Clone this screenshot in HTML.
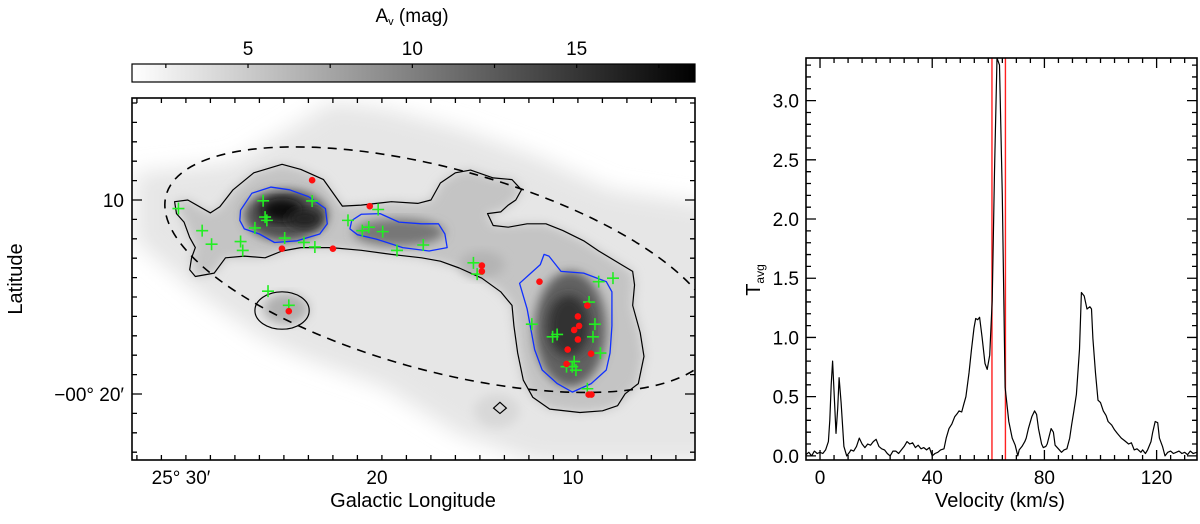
<!DOCTYPE html>
<html><head><meta charset="utf-8"><style>
html,body{margin:0;padding:0;background:#fff;}
svg{display:block;font-family:"Liberation Sans",sans-serif;}
</style></head><body>
<svg id="fig" width="1200" height="524" viewBox="0 0 1200 524" xmlns="http://www.w3.org/2000/svg">
<defs>
<linearGradient id="cbg" x1="0" x2="1" y1="0" y2="0"><stop offset="0" stop-color="#fff"/><stop offset="1" stop-color="#000"/></linearGradient>
<filter id="blur" x="-20%" y="-20%" width="140%" height="140%"><feGaussianBlur stdDeviation="14"/></filter>
<filter id="blur2" x="-20%" y="-20%" width="140%" height="140%"><feGaussianBlur stdDeviation="30"/></filter>
<clipPath id="mapclip"><rect x="132" y="98" width="563" height="362"/></clipPath>
<clipPath id="specclip"><rect x="806" y="58" width="391" height="402"/></clipPath>
</defs>

<text x="412" y="22" font-size="19" text-anchor="middle">A<tspan font-size="11" dy="3">v</tspan><tspan dy="-3"> (mag)</tspan></text>
<rect x="132" y="64" width="563" height="18" fill="url(#cbg)" stroke="#000" stroke-width="1.2"/>
<g id="cbticks"></g>

<g clip-path="url(#mapclip)">
  <rect x="132" y="98" width="563" height="362" fill="#fff"/>
  <g transform="translate(119.94,87.8) scale(0.377,0.34)">
    <path filter="url(#blur2)" fill="#e6e6e6" d="M40,250 L300,220 L480,100 L560,40 L700,60 L900,120 L1100,200 L1300,300 L1600,350 L1600,1100 L1100,1100 L900,1020 L700,880 L500,800 L380,740 L200,600 L40,450 Z"/>
    <path filter="url(#blur)" fill="#c4c4c4" d="M145,335 L180,330 L240,368 L265,350 L300,300 L355,250 L430,225 L480,240 L540,270 L590,348 L640,345 L720,335 L790,340 L825,330 L850,280 L890,250 L930,242 L990,265 L1040,270 L1065,300 L1050,330 L1010,365 L975,370 L990,405 L1080,400 L1130,400 L1175,420 L1230,450 L1330,520 L1360,540 L1365,580 L1360,640 L1380,720 L1390,790 L1375,870 L1320,935 L1280,950 L1220,955 L1140,945 L1095,910 L1070,860 L1055,780 L1040,640 L1010,600 L960,560 L900,530 L800,500 L720,490 L560,470 L480,470 L385,500 L280,500 L250,545 L200,555 L190,500 L200,470 L170,395 Z"/>
    <ellipse filter="url(#blur)" cx="440" cy="650" rx="60" ry="45" fill="#b0b0b0"/>
    <ellipse filter="url(#blur)" cx="440" cy="375" rx="110" ry="75" fill="#505050"/>
    <ellipse filter="url(#blur)" cx="430" cy="360" rx="55" ry="35" fill="#101010"/>
    <ellipse filter="url(#blur)" cx="490" cy="385" rx="45" ry="28" fill="#202020"/>
    <ellipse filter="url(#blur)" cx="740" cy="425" rx="120" ry="40" fill="#777"/>
    <ellipse filter="url(#blur)" cx="1195" cy="710" rx="95" ry="170" fill="#606060"/>
    <ellipse filter="url(#blur)" cx="1190" cy="700" rx="55" ry="90" fill="#303030"/>
    <ellipse filter="url(#blur)" cx="960" cy="520" rx="60" ry="40" fill="#b4b4b4"/>
    <ellipse filter="url(#blur)" cx="1000" cy="950" rx="60" ry="50" fill="#d8d8d8"/>
    <path d="M145,335 L180,330 L240,368 L265,350 L300,300 L355,250 L430,225 L480,240 L540,270 L590,348 L640,345 L720,335 L790,340 L825,330 L850,280 L890,250 L930,242 L990,265 L1040,270 L1065,300 L1050,330 L1030,345 L1010,365 L975,370 L990,405 L1030,410 L1080,400 L1130,400 L1175,420 L1230,450 L1270,480 L1330,520 L1360,540 L1365,580 L1360,640 L1370,680 L1380,720 L1390,790 L1375,870 L1340,900 L1320,935 L1280,950 L1220,955 L1140,945 L1095,910 L1070,860 L1055,780 L1045,700 L1040,640 L1010,600 L960,560 L900,530 L850,510 L800,500 L720,490 L640,478 L560,470 L480,470 L430,480 L385,500 L330,495 L280,500 L250,545 L200,555 L185,535 L190,500 L200,470 L185,440 L170,395 L150,370 Z" fill="none" stroke="#000" stroke-width="1.2" vector-effect="non-scaling-stroke" stroke-linejoin="round"/>
    <ellipse cx="430" cy="655" rx="72" ry="55" fill="none" stroke="#000" stroke-width="1.2" vector-effect="non-scaling-stroke"/>
    <path d="M320,360 L350,310 L400,292 L450,300 L500,320 L545,355 L550,400 L530,430 L470,450 L410,455 L370,430 L330,415 L318,390 Z" fill="none" stroke="#1030ff" stroke-width="1.3" vector-effect="non-scaling-stroke" stroke-linejoin="round"/>
    <path d="M615,390 L640,372 L690,370 L740,395 L800,400 L845,400 L862,430 L868,470 L820,480 L750,470 L680,445 L630,432 L610,415 Z" fill="none" stroke="#1030ff" stroke-width="1.3" vector-effect="non-scaling-stroke" stroke-linejoin="round"/>
    <path d="M1060,575 L1090,545 L1115,520 L1125,490 L1138,495 L1170,540 L1230,545 L1290,570 L1305,600 L1305,700 L1300,780 L1290,830 L1250,870 L1200,895 L1160,870 L1120,830 L1100,770 L1080,650 Z" fill="none" stroke="#1030ff" stroke-width="1.3" vector-effect="non-scaling-stroke" stroke-linejoin="round"/>
    <ellipse cx="850" cy="535" rx="760" ry="295" transform="rotate(17.3 850 535)" fill="none" stroke="#000" stroke-width="1.6" stroke-dasharray="9 7" vector-effect="non-scaling-stroke"/>
    <path d="M1008,925 L1025,942 L1008,958 L991,942 Z" fill="none" stroke="#000" stroke-width="1.2" vector-effect="non-scaling-stroke"/>
  </g>
  <g id="markers"></g>
</g>
<rect x="132" y="98" width="563" height="362" fill="none" stroke="#000" stroke-width="1.6"/>
<g id="mapticks"></g>
<text x="22" y="279" font-size="20" text-anchor="middle" transform="rotate(-90 22 279)">Latitude</text>
<text x="413" y="507" font-size="20" text-anchor="middle">Galactic Longitude</text>

<g clip-path="url(#specclip)">
  <g id="redlines"></g>
  <path id="spec" fill="none" stroke="#000" stroke-width="1.2" stroke-linejoin="round"/>
</g>
<rect x="806" y="58" width="391" height="402" fill="none" stroke="#000" stroke-width="1.6"/>
<g id="specticks"></g>
<text x="760" y="280" font-size="20" text-anchor="middle" transform="rotate(-90 760 280)">T<tspan font-size="12" dy="4">avg</tspan></text>
<text x="1000" y="507" font-size="20" text-anchor="middle">Velocity (km/s)</text>
</svg>
<script>
const NS="http://www.w3.org/2000/svg";
const ysoLon=[30.13,28.92,28.44,26.96,26.85,25.81,25.71,25.62,26.23,24.71,23.73,23.17,23.31,21.48,20.75,20.42,19.71,19.94,18.98,17.64,15.08,14.89,25.56,24.50,12.10,11.04,10.81,9.94,10.04,9.85,10.33,9.18,8.88,8.98,8.60,8.69,7.96,9.27];
const ysoLat=[-10.44,-11.58,-12.28,-12.14,-12.60,-10.04,-10.88,-11.05,-11.44,-11.96,-12.19,-12.42,-10.05,-11.05,-11.58,-11.40,-11.63,-10.49,-12.60,-12.32,-13.24,-13.82,-14.70,-15.43,-16.40,-17.05,-16.93,-18.33,-18.59,-18.77,-18.59,-15.26,-16.40,-17.05,-17.89,-14.21,-14.03,-19.73];
const redLon=[23.31,24.85,22.25,20.37,14.65,14.65,24.50,11.71,9.27,9.75,9.94,9.69,9.75,10.27,9.08,10.33,9.20,9.06];
const redLat=[-8.98,-12.51,-12.51,-10.32,-13.38,-13.68,-15.73,-14.21,-15.44,-16.00,-16.70,-16.49,-17.19,-17.71,-17.92,-18.45,-20.03,-20.03];
const lonTicks=[30,20,10];
const lonTickLabels=["25° 30′","20","10"];
const latTicks=[-10,-20];
const latTickLabels=["10","−00° 20′"];
const cbTicks=[5,10,15];
const vel=[-5,-4,-3,-2,-1,0,1,2,3,3.5,4,4.5,5,5.7,6.3,6.8,7.5,8.5,9.5,10.5,11,12,13,14,15,16,17,18,19,20,21,22,23,24,25,26,27,28,29,30,31,32,33,34,35,36,37,38,39,40,41,42,43,44.2,45,46,47,48,49,49.6,50.5,51.3,52,53.1,54,54.9,55.5,56.2,56.9,57.8,58.8,59.6,60.5,61.4,62.2,63.1,64,65,66,67.3,68.5,69.6,70.5,71,72,73,73.5,74.3,75.5,76.5,77.2,77.9,79,79.6,80.5,81,82.4,83.2,83.8,85,86.1,87,88,89,89.7,90.5,91.4,92.5,93.2,94.2,95.2,96.2,96.8,97.3,98.2,99.1,100,101,102,102.7,104,105,106,107.4,108.5,110,111,112,113,114.4,115,116,116.8,118,118.6,119.5,120.4,121,122.1,123,124,125,126,127,128,129,130,131,132,133,134.4];
const tavg=[0.01,0.03,0.0,0.04,0.02,0.03,0.02,0.05,0.12,0.3,0.6,0.8,0.55,0.19,0.4,0.66,0.45,0.08,0.0,0.03,0.05,0.04,0.08,0.15,0.1,0.07,0.1,0.09,0.12,0.14,0.08,0.06,0.05,0.02,0.0,0.04,0.04,0.02,0.05,0.08,0.12,0.1,0.11,0.07,0.09,0.06,0.07,0.05,0.07,0.0,0.02,0.03,0.05,0.06,0.15,0.23,0.27,0.33,0.36,0.38,0.37,0.44,0.5,0.70,0.9,1.08,1.16,1.15,1.17,1.0,0.78,0.73,0.85,1.31,2.4,3.36,3.3,2.2,0.58,0.29,0.15,0.09,0.0,0.05,0.08,0.12,0.15,0.23,0.33,0.38,0.35,0.23,0.1,0.07,0.08,0.1,0.23,0.2,0.09,0.06,0.03,0.05,0.06,0.15,0.26,0.38,0.52,0.9,1.38,1.35,1.24,1.26,1.24,0.99,0.7,0.47,0.45,0.38,0.34,0.29,0.26,0.22,0.19,0.15,0.13,0.1,0.11,0.05,0.06,0.03,0.05,0.02,0.05,0.12,0.2,0.29,0.28,0.15,0.08,0.0,0.03,0.04,0.02,0.03,0.04,0.02,0.03,0.01,0.04,0.02,0.03,0.02];
const velTicks=[0,40,80,120];
const tTicks=[0,0.5,1,1.5,2,2.5,3];
const tTickLabels=["0.0","0.5","1.0","1.5","2.0","2.5","3.0"];
const redVel=[61.3,66.1];

const mx=m=>181+(30-m)*19.6;
const my=l=>200+(-l-10)*19.4;
const cbx=v=>132+(v-1.47)*(563/(18.6-1.47));
const sx=v=>806+(v+5)*(391/139.4);
const sy=t=>460-(t+0.035)*(402/3.395);

function mk(tag,attrs,parent){const e=document.createElementNS(NS,tag);for(const k in attrs)e.setAttribute(k,attrs[k]);parent.appendChild(e);return e;}
const fig=document.getElementById('fig');
const markers=document.getElementById('markers');
ysoLon.forEach((m,i)=>{
  const x=mx(m),y=my(ysoLat[i]);
  const p=mk('path',{d:`M${x-6},${y}H${x+6}M${x},${y-6}V${y+6}`,stroke:'#22ee22','stroke-width':1.6,fill:'none'},markers);
  
  
});
redLon.forEach((m,i)=>{
  const c=mk('circle',{cx:mx(m),cy:my(redLat[i]),r:3.3,fill:'#ff1010'},markers);
  
  
});
const mt=document.getElementById('mapticks');
let d='';
for(let m=36;m>=-4;m-=1.25){const x=mx(m);if(x<133||x>694)continue;const maj=[30,20,10].includes(m);const L=maj?10:5;d+=`M${x},460v-${L}M${x},98v${L}`;}
for(let l=-4;l>=-25;l--){const y=my(l);if(y<99||y>459)continue;const maj=(l%10===0);const L=maj?10:5;d+=`M132,${y}h${L}M695,${y}h-${L}`;}
mk('path',{d:d,stroke:'#000','stroke-width':1.3,fill:'none'},mt);
lonTicks.forEach((m,i)=>{const t=mk('text',{x:mx(m),y:484,'font-size':19,'text-anchor':'middle'},fig);t.textContent=lonTickLabels[i];
});
latTicks.forEach((l,i)=>{const t=mk('text',{x:124,y:my(l)+7,'font-size':19,'text-anchor':'end'},fig);t.textContent=latTickLabels[i];
});
const cb=document.getElementById('cbticks');
let dc='';
for(let v=2.5;v<18.6;v+=2.5){const x=cbx(v);dc+=`M${x},64v4`;}
mk('path',{d:dc,stroke:'#000','stroke-width':1.2},cb);
cbTicks.forEach(v=>{const t=mk('text',{x:cbx(v),y:55,'font-size':19,'text-anchor':'middle'},fig);t.textContent=v;
});
const sp=document.getElementById('spec');
sp.setAttribute('d',vel.map((v,i)=>(i?'L':'M')+sx(v).toFixed(1)+','+sy(tavg[i]).toFixed(1)).join(''));
const rl=document.getElementById('redlines');
redVel.forEach(v=>{const l=mk('line',{x1:sx(v),x2:sx(v),y1:58,y2:460,stroke:'#ff2020','stroke-width':1.4},rl);
});
const st=document.getElementById('specticks');
let ds='';
for(let v=0;v<=134;v+=5){const x=sx(v);const L=(v%40===0)?10:5;ds+=`M${x},460v-${L}M${x},58v${L}`;}
for(let t=0;t<=3.36;t+=0.1){const tt=Math.round(t*10)/10;const y=sy(tt);const L=(Math.round(tt*10)%5===0)?10:5;ds+=`M806,${y}h${L}M1197,${y}h-${L}`;}
mk('path',{d:ds,stroke:'#000','stroke-width':1.3,fill:'none'},st);
velTicks.forEach(v=>{const t=mk('text',{x:sx(v),y:484,'font-size':19,'text-anchor':'middle'},fig);t.textContent=v;
});
tTicks.forEach((v,i)=>{const t=mk('text',{x:799,y:sy(v)+7,'font-size':19,'text-anchor':'end'},fig);t.textContent=tTickLabels[i];
});
</script>
</body></html>
